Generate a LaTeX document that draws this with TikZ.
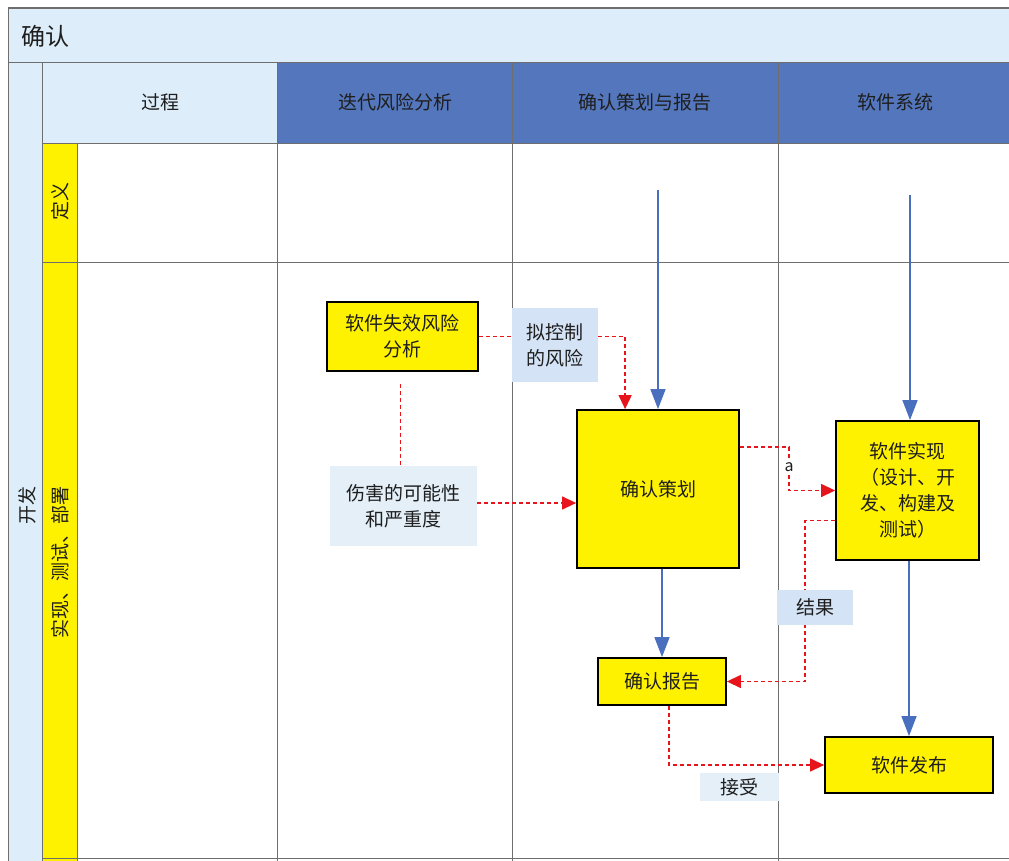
\documentclass[tikz,border=0pt]{standalone}
\usepackage{fontspec}
\setmainfont{Noto Sans CJK SC}
\usetikzlibrary{arrows.meta,calc}
\definecolor{bandblue}{HTML}{DDEEFA}
\definecolor{headblue}{HTML}{5476BC}
\definecolor{boxyellow}{HTML}{FFF200}
\definecolor{lblblue}{HTML}{D4E3F5}
\definecolor{lblpale}{HTML}{E4EFF8}
\definecolor{flowred}{HTML}{E8141C}
\definecolor{flowblue}{HTML}{4A6FBF}
\definecolor{gridgray}{HTML}{6E6E6E}
\definecolor{txt}{HTML}{1E1E1E}
\pgfdeclarelayer{gridlayer}
\pgfdeclarelayer{linelayer}
\pgfsetlayers{gridlayer,linelayer,main}
\tikzset{
  cjk/.style={font=\fontsize{19}{26}\selectfont, text=txt},
  ybox/.style={cjk, draw=black, line width=1.8pt, fill=boxyellow, align=center, inner sep=0pt},
  lbl/.style={cjk, fill=lblblue, align=center, inner sep=0pt},
  redflow/.style={draw=flowred, line width=1.3pt, dash pattern=on 4pt off 3pt},
  redarrow/.style={redflow, -{Triangle[length=14pt,width=13pt]}},
  bluearrow/.style={draw=flowblue, line width=1.4pt, -{Triangle[length=20pt,width=15pt]}},
  gridline/.style={draw=gridgray, line width=0.8pt},
}
\begin{document}
\begin{tikzpicture}[x=1pt,y=-1pt]
\useasboundingbox (0,0) rectangle (1009,861);
\begin{pgfonlayer}{gridlayer}
  \fill[white] (0,0) rectangle (1009,861);
  % title band
  \fill[bandblue] (8,8) rectangle (1009,62);
  % left band
  \fill[bandblue] (8,62) rectangle (42,861);
  % header
  \fill[bandblue] (42,62) rectangle (277,143);
  \fill[headblue] (277,62) rectangle (1009,143);
  % yellow row headers
  \fill[boxyellow] (42,143) rectangle (77,262);
  \fill[boxyellow] (42,262) rectangle (77,861);
  % lines
  \draw[gridline, line width=1.2pt] (8,8) -- (1009,8);
  \draw[gridline] (8,8) -- (8,861);
  \draw[gridline] (8,62) -- (1009,62);
  \draw[gridline] (42,62) -- (42,861);
  \draw[gridline] (42,143) -- (1009,143);
  \draw[gridline] (77,143) -- (77,861);
  \draw[gridline] (42,262) -- (1009,262);
  \draw[gridline] (277,62) -- (277,861);
  \draw[gridline] (512,62) -- (512,861);
  \draw[gridline] (778,62) -- (778,861);
  \draw[gridline] (42,858) -- (1009,858);
\end{pgfonlayer}

% headings
\node[cjk, font=\fontsize{24}{28}\selectfont, anchor=west] (title) at (18,36) {确认};
\node[cjk, rotate=90] (dev) at (27,505) {开发};
\node[cjk] (h0) at (160,102) {过程};
\node[cjk] (h1) at (395,102) {迭代风险分析};
\node[cjk] (h2) at (645,102) {确认策划与报告};
\node[cjk] (h3) at (895,102) {软件系统};
\node[cjk, rotate=90] (r1) at (60,202) {定义};
\node[cjk, rotate=90] (r2) at (60,562) {实现、测试、部署};

% boxes
\node[ybox, minimum width=151pt, minimum height=69pt] (sfra) at (402.5,336.5) {软件失效风险\\分析};
\node[ybox, minimum width=162pt, minimum height=158pt] (plan) at (658,489) {确认策划};
\node[ybox, minimum width=143pt, minimum height=139pt] (impl) at (907.5,490.5) {软件实现\\（设计、开\\发、构建及\\测试）};
\node[ybox, minimum width=128pt, minimum height=47pt] (report) at (662,681.5) {确认报告};
\node[ybox, minimum width=168pt, minimum height=56pt] (release) at (909,765) {软件发布};

% labels
\node[lbl, minimum width=86pt, minimum height=74pt] (ctrl) at (555,345) {拟控制\\的风险};
\node[lbl, fill=lblpale, minimum width=147pt, minimum height=80pt] (harm) at (403.5,506) {伤害的可能性\\和严重度};
\node[lbl, minimum width=76pt, minimum height=35pt] (result) at (815,607.5) {结果};
\node[lbl, fill=lblpale, minimum width=79pt, minimum height=28pt] (accept) at (739.5,787) {接受};
\node[cjk, font=\fontsize{16}{18}\selectfont, fill=white, inner sep=1.5pt] (alabel) at (789,467) {a};

\coordinate (s1) at (658,190);
\coordinate (s2) at (910,195);

\begin{pgfonlayer}{linelayer}
  \draw[bluearrow] (s1) -- (s1 |- plan.north);
  \draw[bluearrow] (s2) -- (s2 |- impl.north);
  \draw[bluearrow] (report.north |- plan.south) -- (report.north);
  \draw[bluearrow] (release.north |- impl.south) -- (release.north);

  \draw[redarrow] (sfra.east) -| ([xshift=49pt]plan.north west);
  \draw[redflow] ([xshift=-2pt,yshift=-12pt]sfra.south) -- ([xshift=-2pt]harm.north -| sfra.south);
  \draw[redarrow] (harm.east |- 0,503) -- (plan.west |- 0,503);
  \draw[redarrow] ([yshift=42pt]plan.east) -- ++(49,0) |- (impl.west);
  \draw[redarrow] ([yshift=-30pt]impl.west) -- ++(-30,0) |- (report.east);
  \draw[redarrow] ([xshift=7pt]report.south) |- (release.west);
\end{pgfonlayer}
\end{tikzpicture}
\end{document}
